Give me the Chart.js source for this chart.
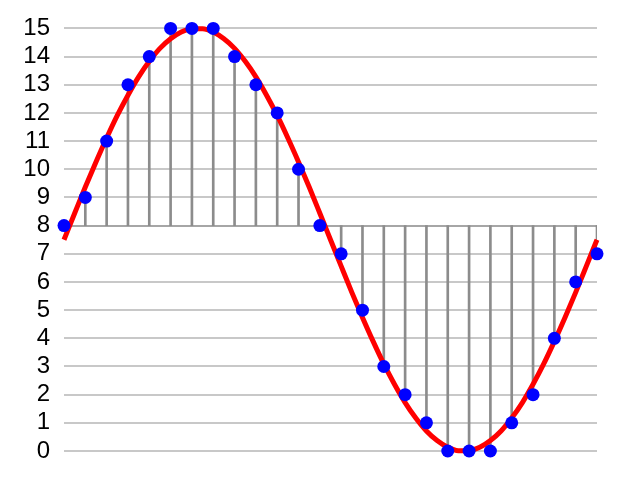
<!DOCTYPE html>
<html>
<head>
<meta charset="utf-8">
<script src="https://cdn.jsdelivr.net/npm/chart.js@4/dist/chart.umd.min.js"></script>
<style>
  html, body { margin: 0; padding: 0; background: #fff; }
  #wrap { width: 640px; height: 480px; }
</style>
</head>
<body>
<div id="wrap"><canvas id="c"></canvas></div>
<script>
// sample index along the x axis (no labels shown)
const sampleIdx = [0,1,2,3,4,5,6,7,8,9,10,11,12,13,14,15,16,17,18,19,20,21,22,23,24,25];
// quantised sample values (blue dots)
const sampleVals = [8,9,11,13,14,15,15,15,14,13,12,10,8,7,5,3,2,1,0,0,0,1,2,4,6,7];
// analogue signal read at half-sample steps (red curve)
const curveX = [0,0.5,1,1.5,2,2.5,3,3.5,4,4.5,5,5.5,6,6.5,7,7.5,8,8.5,9,9.5,10,10.5,11,11.5,12,12.5,
  13,13.5,14,14.5,15,15.5,16,16.5,17,17.5,18,18.5,19,19.5,20,20.5,21,21.5,22,22.5,23,23.5,24,24.5,25];
const curveVals = [7.5,8.44,9.37,10.26,11.11,11.91,12.63,13.28,13.83,14.29,14.63,14.87,14.99,14.99,14.87,14.63,
  14.29,13.83,13.28,12.63,11.91,11.11,10.26,9.37,8.44,7.5,6.56,5.63,4.74,3.89,3.09,2.37,1.72,1.17,0.71,0.37,
  0.13,0.01,0.01,0.13,0.37,0.71,1.17,1.72,2.37,3.09,3.89,4.74,5.63,6.56,7.5];
const baseline = 8;
const yTicks = [0,1,2,3,4,5,6,7,8,9,10,11,12,13,14,15];

new Chart(document.getElementById("c"), {
  data: {
    datasets: [
      {
        type: "bar",
        data: sampleIdx.map((x, i) => ({ x: x, y: [baseline, sampleVals[i]] })),
        backgroundColor: "#8c8c8c",
        barThickness: 2,
        order: 3,
      },
      {
        type: "line",
        data: curveX.map((x, i) => ({ x: x, y: curveVals[i] })),
        borderColor: "#ff0000",
        borderWidth: 5,
        pointRadius: 0,
        cubicInterpolationMode: "monotone",
        clip: false,
        order: 2,
      },
      {
        type: "scatter",
        data: sampleIdx.map((x, i) => ({ x: x, y: sampleVals[i] })),
        backgroundColor: "#0000ff",
        borderWidth: 0,
        pointRadius: 6.5,
        clip: false,
        order: 1,
      },
    ],
  },
  options: {
    responsive: true,
    maintainAspectRatio: false,
    animation: false,
    layout: { padding: { top: 28, bottom: 29, right: 43, left: 0 } },
    plugins: { legend: { display: false }, tooltip: { enabled: false } },
    scales: {
      x: {
        type: "linear",
        min: 0,
        max: 25,
        display: false,
        offset: false,
      },
      y: {
        min: 0,
        max: 15,
        border: { display: false },
        afterFit: (s) => { s.width = 64; },
        afterBuildTicks: (s) => { s.ticks = yTicks.map((v) => ({ value: v })); },
        grid: {
          drawTicks: false,
          lineWidth: 2,
          color: (ctx) => (ctx.tick && ctx.tick.value === baseline ? "#a6a6a6" : "#c8c8c8"),
        },
        ticks: {
          autoSkip: false,
          padding: 14,
          color: "#000",
          font: { family: "Liberation Sans", size: 24 },
        },
      },
    },
  },
});
</script>
</body>
</html>
